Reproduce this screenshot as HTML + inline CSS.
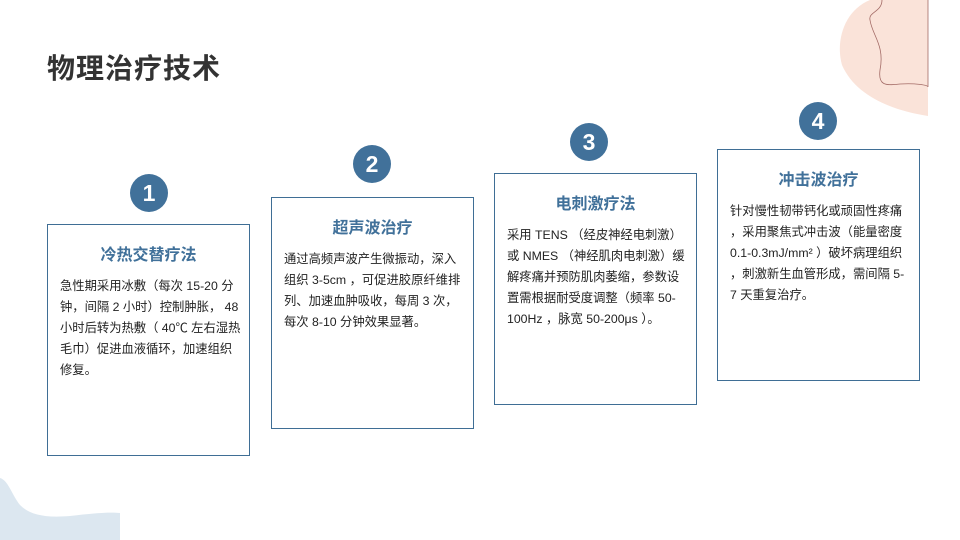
<!DOCTYPE html>
<html><head><meta charset="utf-8"><style>
body{margin:0;width:960px;height:540px;overflow:hidden;background:#fff;position:relative;font-family:"Liberation Sans","Noto Sans CJK SC",sans-serif;}
.t{position:absolute;left:47px;top:47px;font-size:28px;color:#333;font-weight:bold;letter-spacing:1px}
.box{position:absolute;width:203px;height:232px;border:1.5px solid #3f6e95;box-sizing:border-box;background:#fff}
.box h3{margin:0;position:absolute;top:16px;left:0;right:0;text-align:center;font-size:16px;color:#41719a;font-weight:bold}
.box p{margin:0;position:absolute;top:51px;left:12px;right:0;font-size:12.3px;line-height:21px;color:#222;white-space:nowrap}
.c{position:absolute;width:38px;height:38px;border-radius:50%;background:#41719a;color:#fff;font-weight:bold;font-size:23px;text-align:center;line-height:38px}
svg{position:absolute;left:0;top:0}
</style></head><body>
<svg width="960" height="540">
<path d="M870,0 C845,10 835,40 842,65 C855,95 890,110 928,116 L928,0 Z" fill="#fae3d9"/>
<path d="M882,0 C882,12 868,12 870,20 C872,35 885,45 880,70 C878,85 885,86 900,84 C915,83 928,85 928,87 L928,0" fill="none" stroke="#a36b66" stroke-width="0.8"/>
<path d="M0,478 C8,480 12,495 20,505 C30,515 45,518 70,516 C95,513 110,512 120,513 L120,540 L0,540 Z" fill="#dce7f0"/>
</svg>
<div class="t">物理治疗技术</div>
<div class="c" style="left:130px;top:174px">1</div>
<div class="c" style="left:353px;top:145px">2</div>
<div class="c" style="left:570px;top:123px">3</div>
<div class="c" style="left:799px;top:102px">4</div>
<div class="box" style="left:47px;top:224px"><h3>冷热交替疗法</h3><p>急性期采用冰敷（每次 15-20 分<br>钟，间隔 2 小时）控制肿胀， 48<br>小时后转为热敷（ 40℃ 左右湿热<br>毛巾）促进血液循环，加速组织<br>修复。</p></div>
<div class="box" style="left:271px;top:197px"><h3>超声波治疗</h3><p>通过高频声波产生微振动，深入<br>组织 3-5cm ，可促进胶原纤维排<br>列、加速血肿吸收，每周 3 次，<br>每次 8-10 分钟效果显著。</p></div>
<div class="box" style="left:494px;top:173px"><h3>电刺激疗法</h3><p>采用 TENS （经皮神经电刺激）<br>或 NMES （神经肌肉电刺激）缓<br>解疼痛并预防肌肉萎缩，参数设<br>置需根据耐受度调整（频率 50-<br>100Hz ，脉宽 50-200μs ）。</p></div>
<div class="box" style="left:717px;top:149px"><h3>冲击波治疗</h3><p>针对慢性韧带钙化或顽固性疼痛<br>，采用聚焦式冲击波（能量密度<br>0.1-0.3mJ/mm² ）破坏病理组织<br>，刺激新生血管形成，需间隔 5-<br>7 天重复治疗。</p></div>
</body></html>
